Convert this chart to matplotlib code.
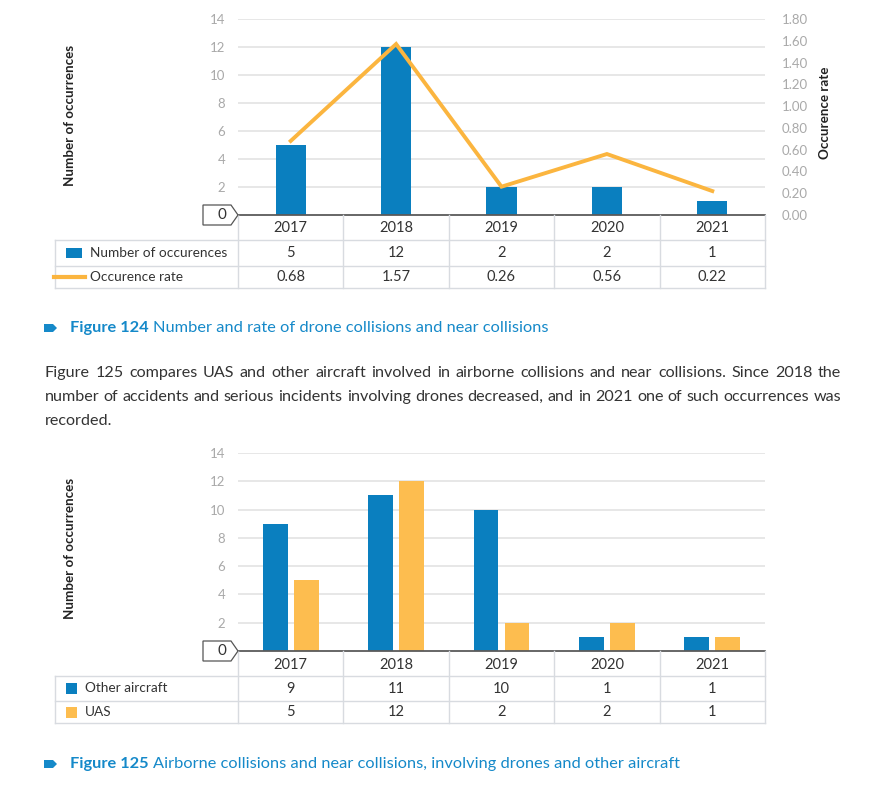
import numpy as np
import matplotlib.pyplot as plt
from matplotlib.patches import Polygon, Rectangle
from matplotlib.lines import Line2D

plt.rcParams['font.family'] = ['Lato', 'DejaVu Sans']

# data
years = ['2017', '2018', '2019', '2020', '2021']
drone_counts = [5, 12, 2, 2, 1]
drone_rate = [0.68, 1.57, 0.26, 0.56, 0.22]
rate_labels = ['0.68', '1.57', '0.26', '0.56', '0.22']
other_aircraft = [9, 11, 10, 1, 1]
uas = [5, 12, 2, 2, 1]

count_ticks = [2, 4, 6, 8, 10, 12, 14]
rate_ticks = [0.0, 0.2, 0.4, 0.6, 0.8, 1.0, 1.2, 1.4, 1.6, 1.8]

caption1 = ('Figure 124', 'Number and rate of drone collisions and near collisions')
caption2 = ('Figure 125', 'Airborne collisions and near collisions, involving drones and other aircraft')
paragraph = [
    'Figure 125 compares UAS and other aircraft involved in airborne collisions and near collisions. Since 2018 the',
    'number of accidents and serious incidents involving drones decreased, and in 2021 one of such occurrences was',
    'recorded.',
]

BLUE = '#0a7fbf'
ORANGE = '#fdbd4f'
LINE_ORANGE = '#fbb53f'
GRID = '#e0e0e0'
TABLE_LINE = '#d8dbe0'
TICK = '#a9a9a9'
TEXT = '#333333'
CAPTION = '#1589c9'

W, H = 878, 800
fig = plt.figure(figsize=(W / 100, H / 100), dpi=100)
renderer = fig.canvas.get_renderer()

# chart area in pixels (shared by both figures)
X0, X1, TL = 238, 765, 55
unit = (X1 - X0) / len(years)


def rect(x0, y0, x1, y1):
    return [x0 / W, 1 - y1 / H, (x1 - x0) / W, (y1 - y0) / H]


def fp(x, y):
    return (x / W, 1 - y / H)


def count_axis(top, zero):
    ax = fig.add_axes(rect(X0, top, X1, zero))
    ax.set_xlim(-0.5, len(years) - 0.5)
    ax.set_ylim(0, 14)
    ax.set_yticks(count_ticks)
    ax.set_xticks([])
    ax.tick_params(axis='y', length=0, pad=9, labelsize=9.5, labelcolor=TICK)
    ax.yaxis.grid(True, color=GRID, lw=1.1)
    ax.set_axisbelow(True)
    for s in ['top', 'right', 'left']:
        ax.spines[s].set_visible(False)
    ax.spines['bottom'].set_color('#5a5a5a')
    ax.spines['bottom'].set_linewidth(1.3)
    ax.patch.set_alpha(0)
    # the "0" tag on the left
    pts = [fp(203, zero - 10), fp(231, zero - 10), fp(238, zero), fp(231, zero + 10), fp(203, zero + 10)]
    fig.patches.append(Polygon(pts, closed=True, transform=fig.transFigure, facecolor='white',
                               edgecolor='#555555', lw=0.9))
    fig.text(*fp(222, zero), '0', ha='center', va='center', fontsize=11, color=TEXT)
    return ax


def table(zero, lines, rows):
    # lines: y of header bottom, row1 bottom, row2 bottom
    bottom = lines[-1]
    tx = fig.add_axes(rect(TL, zero, X1, bottom))
    tx.set_xlim(-0.5 - (X0 - TL) / unit, len(years) - 0.5)
    tx.set_ylim(bottom, zero)
    tx.axis('off')
    for k in range(len(years) + 1):
        tx.plot([k - 0.5, k - 0.5], [zero, bottom], color=TABLE_LINE, lw=1, clip_on=False)
    lx = -0.5 - (X0 - TL) / unit
    tx.plot([lx, lx], [lines[0], bottom], color=TABLE_LINE, lw=1, clip_on=False)
    for y in lines:
        tx.plot([lx, len(years) - 0.5], [y, y], color=TABLE_LINE, lw=1, clip_on=False)
    hc = (zero + lines[0]) / 2 + 1
    for i, yr in enumerate(years):
        tx.text(i, hc, yr, ha='center', va='center', fontsize=10.5, color=TEXT)
    tops = [lines[0], lines[1]]
    for (label, kind, color, vals), t, b in zip(rows, tops, lines[1:]):
        c = (t + b) / 2
        for i, v in enumerate(vals):
            tx.text(i, c, str(v), ha='center', va='center', fontsize=10.5, color=TEXT)
        if kind == 'line':
            fig.lines.append(Line2D([54 / W, 85 / W], [1 - c / H, 1 - c / H], transform=fig.transFigure,
                                    color=color, lw=3))
            fig.text(*fp(90, c), label, ha='left', va='center', fontsize=9.8, color=TEXT)
        elif kind == 'wide':
            fig.patches.append(Rectangle(fp(66, c + 5), 16 / W, 10 / H, transform=fig.transFigure,
                                         facecolor=color, edgecolor='none'))
            fig.text(*fp(90, c), label, ha='left', va='center', fontsize=9.8, color=TEXT)
        else:
            fig.patches.append(Rectangle(fp(66, c + 5.5), 11 / W, 11 / H, transform=fig.transFigure,
                                         facecolor=color, edgecolor='none'))
            fig.text(*fp(85, c), label, ha='left', va='center', fontsize=9.8, color=TEXT)


def caption(y, parts):
    fig.patches.append(Polygon([fp(44, y - 4), fp(53, y - 4), fp(57, y), fp(53, y + 4), fp(44, y + 4)],
                               closed=True, transform=fig.transFigure, facecolor=CAPTION, edgecolor='none'))
    t = fig.text(*fp(70, y), parts[0], ha='left', va='center', fontsize=11.8, fontweight='bold', color=CAPTION)
    bb = t.get_window_extent(renderer=renderer)
    fig.text(bb.x1 / W + 4 / W, 1 - y / H, parts[1], ha='left', va='center', fontsize=11.8, color=CAPTION)


def justified(line, y, left, right, last=False):
    if last:
        fig.text(*fp(left, y), line, ha='left', va='center', fontsize=11.6, color=TEXT)
        return
    words = line.split(' ')
    texts = [fig.text(*fp(left, y), w, ha='left', va='center', fontsize=11.6, color=TEXT) for w in words]
    widths = [t.get_window_extent(renderer=renderer).width for t in texts]
    gap = (right - left - sum(widths)) / (len(words) - 1)
    pos = left
    for t, wd in zip(texts, widths):
        t.set_x(pos / W)
        pos += wd + gap


x = np.arange(len(years))

# Figure 124
ax1 = count_axis(19, 215)
ax1.bar(x, drone_counts, width=0.285, color=BLUE, zorder=2)
ax1r = ax1.twinx()
ax1r.set_ylim(0, 1.8)
ax1r.set_yticks(rate_ticks)
ax1r.set_yticklabels([f'{v:.2f}' for v in rate_ticks])
ax1r.tick_params(axis='y', length=0, pad=12, labelsize=9.5, labelcolor=TICK)
for s in ax1r.spines.values():
    s.set_visible(False)
ax1r.plot(x, drone_rate, color=LINE_ORANGE, lw=2.8, solid_joinstyle='miter')
fig.text(*fp(70, 115), 'Number of occurrences', rotation=90, ha='center', va='center',
         fontsize=9.6, fontweight='bold', color='#222222')
fig.text(*fp(825, 113), 'Occurence rate', rotation=90, ha='center', va='center',
         fontsize=9.6, fontweight='bold', color='#222222')
table(215, [240, 266, 288], [('Number of occurences', 'wide', BLUE, drone_counts),
                             ('Occurence rate', 'line', LINE_ORANGE, rate_labels)])
caption(328, caption1)

for i, line in enumerate(paragraph):
    justified(line, 373 + 24 * i, 45, 841, last=(i == len(paragraph) - 1))

# Figure 125
ax2 = count_axis(453, 651)
ax2.bar(x - 0.147, other_aircraft, width=0.237, color=BLUE, zorder=2)
ax2.bar(x + 0.147, uas, width=0.237, color=ORANGE, zorder=2)
fig.text(*fp(70, 548), 'Number of occurrences', rotation=90, ha='center', va='center',
         fontsize=9.6, fontweight='bold', color='#222222')
table(651, [676, 701, 723], [('Other aircraft', 'sq', BLUE, other_aircraft),
                             ('UAS', 'sq', ORANGE, uas)])
caption(764, caption2)

fig.savefig('out.png', dpi=100)
